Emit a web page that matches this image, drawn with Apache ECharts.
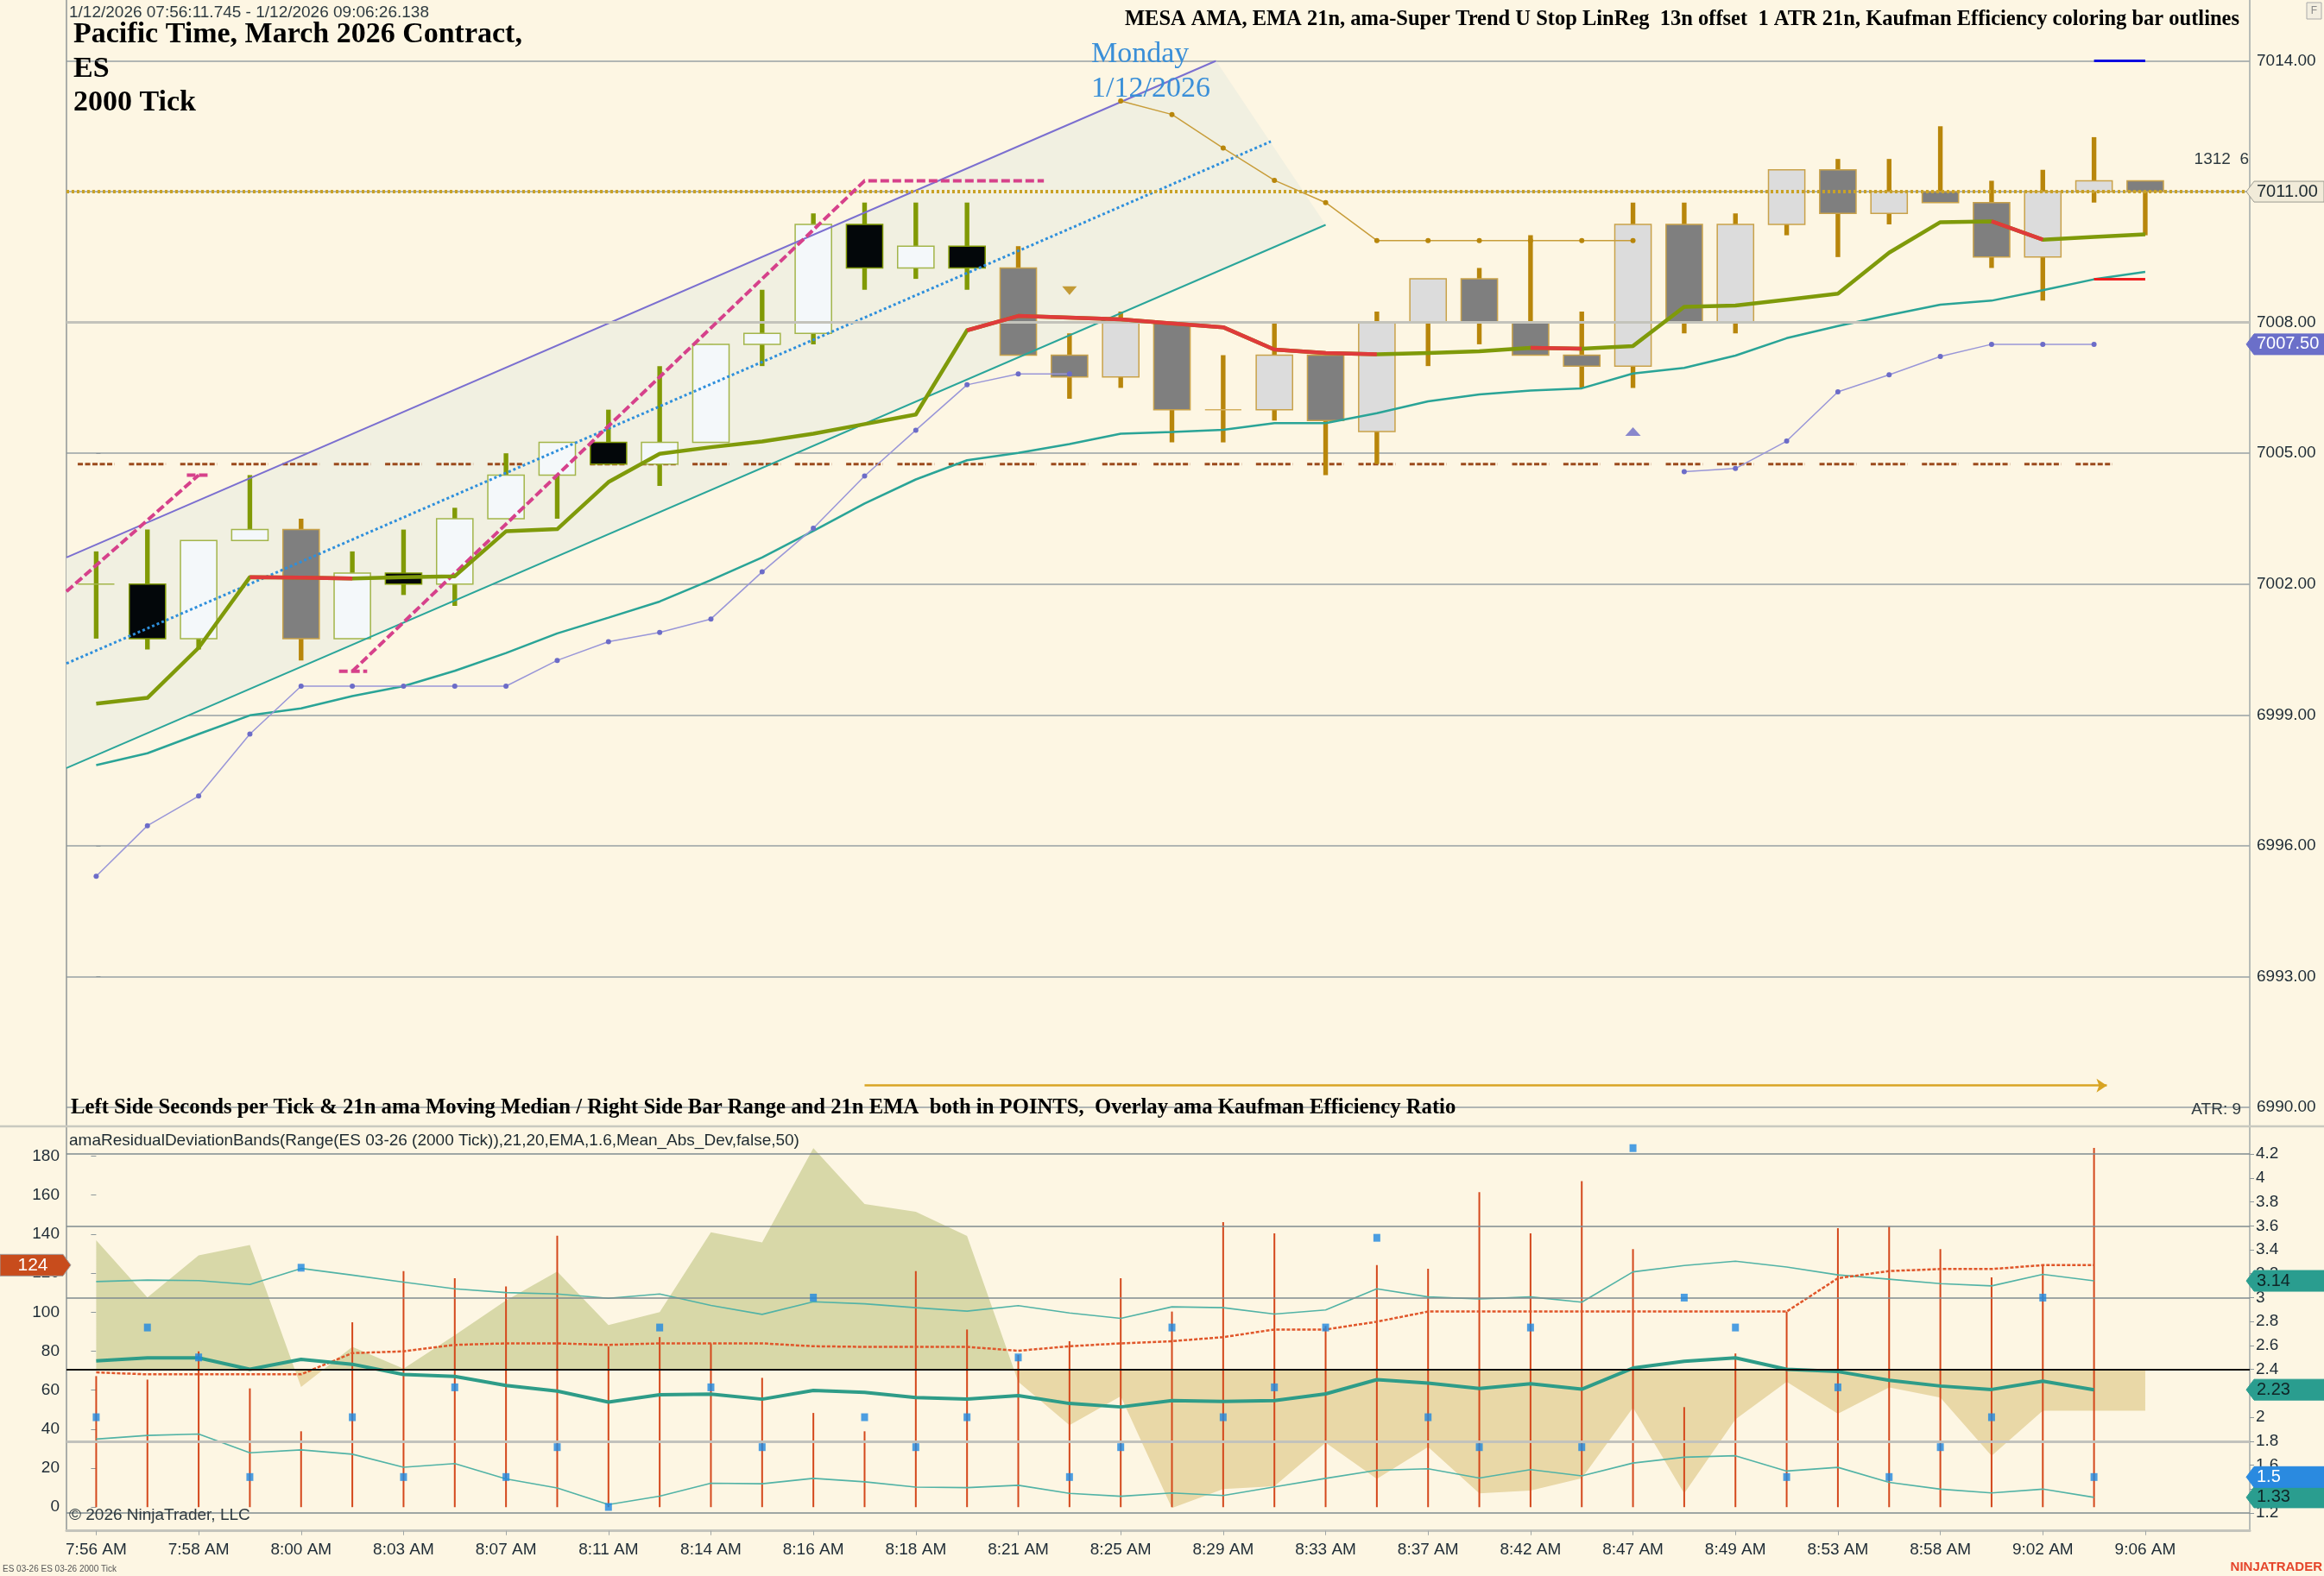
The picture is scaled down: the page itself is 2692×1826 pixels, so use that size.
<!DOCTYPE html>
<html><head><meta charset="utf-8">
<script src="https://cdn.jsdelivr.net/npm/echarts@6/dist/echarts.min.js"></script>
<style>html,body{margin:0;padding:0;background:#fdf6e3;}#c{width:2692px;height:1826px;}</style>
</head><body><div id="c"></div>
<script>
// ---------- categories / ticks ----------
const timeLabels = ['7:56 AM','7:58 AM','8:00 AM','8:03 AM','8:07 AM','8:11 AM','8:14 AM','8:16 AM','8:18 AM','8:21 AM','8:25 AM','8:29 AM','8:33 AM','8:37 AM','8:42 AM','8:47 AM','8:49 AM','8:53 AM','8:58 AM','9:02 AM','9:06 AM'];
const timeLabelBars = [0,2,4,6,8,10,12,14,16,18,20,22,24,26,28,30,32,34,36,38,40];
const leftTicks = [0,20,40,60,80,100,120,140,160,180];
const rightTicks = [1.2,1.4,1.6,1.8,2,2.2,2.4,2.6,2.8,3,3.2,3.4,3.6,3.8,4,4.2];
const rangeGridLevels = [1.2,1.8,2.4,3.0,3.6,4.2];
const priceRefLevels = [7008];

// ---------- price bars ----------
const openP  = [7002.0,7002.0,7000.75,7003.0,7003.25,7000.75,7002.25,7002.0,7003.5,7004.5,7005.25,7004.75,7005.25,7007.5,7007.75,7010.25,7009.25,7009.75,7009.25,7007.25,7006.75,7008.0,7006.0,7006.0,7007.25,7005.5,7008.0,7009.0,7008.0,7007.25,7007.0,7010.25,7008.0,7010.25,7011.5,7010.5,7011.0,7010.75,7009.5,7011.0,7011.25];
const highP  = [7002.75,7003.25,7003.0,7004.5,7003.5,7002.75,7003.25,7003.75,7005.0,7005.25,7006.0,7007.0,7007.5,7008.75,7010.5,7010.75,7010.75,7010.75,7009.75,7007.75,7008.25,7008.0,7007.25,7008.0,7007.25,7008.25,7009.0,7009.25,7010.0,7008.25,7010.75,7010.75,7010.5,7011.5,7011.75,7011.75,7012.5,7011.25,7011.5,7012.25,7011.25];
const lowP   = [7000.75,7000.5,7000.5,7003.0,7000.25,7000.75,7001.75,7001.5,7003.5,7003.5,7004.75,7004.25,7005.25,7007.0,7007.5,7008.75,7009.0,7008.75,7007.25,7006.25,7006.5,7005.25,7005.25,7005.75,7004.5,7004.75,7007.0,7007.5,7007.25,7006.5,7006.5,7007.75,7007.75,7010.0,7009.5,7010.25,7010.75,7009.25,7008.5,7010.75,7010.0];
const closeP = [7002.0,7000.75,7003.0,7003.25,7000.75,7002.25,7002.0,7003.5,7004.5,7005.25,7004.75,7005.25,7007.5,7007.75,7010.25,7009.25,7009.75,7009.25,7007.25,7006.75,7008.0,7006.0,7006.0,7007.25,7005.75,7008.0,7009.0,7008.0,7007.25,7007.0,7010.25,7008.0,7010.25,7011.5,7010.5,7011.0,7010.75,7009.5,7011.0,7011.25,7011.0];
const effHigh = [1,1,1,1,0,1,1,1,1,1,1,1,1,1,1,1,1,1,0,0,0,0,0,0,0,0,0,0,0,0,0,0,0,0,0,0,0,0,0,0,0];

// ---------- upper panel indicators ----------
const mesaAma = [6999.26,6999.39,7000.54,7002.16,7002.15,7002.13,7002.16,7002.18,7003.21,7003.26,7004.34,7004.99,7005.14,7005.27,7005.45,7005.67,7005.89,7007.82,7008.15,7008.11,7008.07,7007.98,7007.89,7007.38,7007.30,7007.27,7007.30,7007.34,7007.42,7007.40,7007.46,7008.36,7008.39,7008.52,7008.66,7009.60,7010.30,7010.32,7009.90,7009.96,7010.02];
const mesaRedRuns = [[3,5],[17,25],[28,29],[37,38]];
const ema21 = [6997.85,6998.12,6998.56,6998.99,6999.15,6999.43,6999.66,7000.01,7000.42,7000.87,7001.23,7001.60,7002.09,7002.61,7003.22,7003.85,7004.40,7004.84,7005.01,7005.21,7005.45,7005.49,7005.54,7005.69,7005.69,7005.92,7006.19,7006.35,7006.44,7006.49,7006.83,7006.96,7007.24,7007.64,7007.92,7008.17,7008.41,7008.50,7008.74,7008.99,7009.16];
const stopLower = [6995.30,6996.46,6997.14,6998.56,6999.66,6999.66,6999.66,6999.66,6999.66,7000.25,7000.68,7000.89,7001.20,7002.28,7003.28,7004.48,7005.53,7006.57,7006.82,7006.82,null,null,null,null,null,null,null,null,null,null,null,7004.58,7004.65,7005.28,7006.41,7006.80,7007.22,7007.50,7007.50,7007.50,null];
const stopUpper = [null,null,null,null,null,null,null,null,null,null,null,null,null,null,null,null,null,null,null,null,7013.08,7012.77,7012.00,7011.26,7010.75,7009.88,7009.88,7009.88,7009.88,7009.88,7009.88,null,null,null,null,null,null,null,null,null,null];
const levelDash = [7004.75,7004.75,7004.75,7004.75,7004.75,7004.75,7004.75,7004.75,7004.75,7004.75,7004.75,7004.75,7004.75,7004.75,7004.75,7004.75,7004.75,7004.75,7004.75,7004.75,7004.75,7004.75,7004.75,7004.75,7004.75,7004.75,7004.75,7004.75,7004.75,7004.75,7004.75,7004.75,7004.75,7004.75,7004.75,7004.75,7004.75,7004.75,7004.75,7004.75];
const chanUpper = [[-0.58,7002.61],[21.86,7014.0]];
const chanMid   = [[-0.58,7000.18],[22.93,7012.15]];
const chanLower = [[-0.58,6997.78],[24.0,7010.24]];
const stopLineA = [[-0.58,7001.83],[2.0,7004.5]];
const stopCapA  = [[1.77,7004.5],[2.23,7004.5]];
const stopCapB  = [[4.74,7000.0],[5.29,7000.0]];
const stopLineB = [[5.0,7000.0],[15.0,7011.25],[18.5,7011.25]];
const sellMarker = [[19,7008.73]];
const buyMarker  = [[30,7005.5]];
const targetHigh = [[39,7014.0],[40,7014.0]];
const targetLow  = [[39,7009.0],[40,7009.0]];
const arrowLine  = [[15,6990.5],[39.25,6990.5]];
const lastPrice = 7011.0;

// ---------- lower panel ----------
const timeArea = [3.479,3.001,3.353,3.440,2.253,2.588,2.406,2.685,2.976,3.218,2.770,2.879,3.547,3.462,4.250,3.783,3.717,3.516,2.297,1.933,2.176,1.241,1.399,1.423,1.787,1.484,1.751,1.363,1.387,1.489,2.079,1.363,1.982,2.297,2.030,2.249,2.164,1.678,2.054,2.054,2.054];
const secondsBars = [67.2,65.4,79.9,60.9,38.9,94.8,121.1,117.4,113.2,139.2,82.5,87.2,84.0,66.3,48.3,38.9,121.1,91.1,78.0,85.1,117.4,100.3,146.2,140.4,92.9,124.1,122.3,161.5,140.4,167.2,132.3,51.3,78.8,100.3,143.1,144.1,132.3,117.8,124.1,184.2];
const movingMedian = [69.1,68.1,68.1,68.1,68.1,79.0,79.9,83.2,84.0,84.0,83.2,84.0,84.0,84.0,82.5,82.2,82.2,82.2,80.2,82.5,84.0,85.1,87.2,91.1,91.1,95.1,100.3,100.3,100.3,100.3,100.3,100.3,100.3,100.3,117.4,121.1,122.1,122.1,124.1,124.1];
const barRange = [2.0,2.75,2.5,1.5,3.25,2.0,1.5,2.25,1.5,1.75,1.25,2.75,2.25,1.75,3.0,2.0,1.75,2.0,2.5,1.5,1.75,2.75,2.0,2.25,2.75,3.5,2.0,1.75,2.75,1.75,4.25,3.0,2.75,1.5,2.25,1.5,1.75,2.0,3.0,1.5];
const rangeEma = [2.472,2.496,2.496,2.401,2.484,2.443,2.358,2.341,2.266,2.219,2.127,2.188,2.193,2.151,2.224,2.207,2.164,2.151,2.181,2.115,2.086,2.139,2.132,2.139,2.195,2.314,2.285,2.241,2.280,2.234,2.411,2.467,2.496,2.401,2.382,2.309,2.261,2.232,2.302,2.23];
const bandUpper = [3.134,3.147,3.142,3.110,3.244,3.188,3.130,3.074,3.042,3.030,2.994,3.030,2.935,2.860,2.965,2.948,2.916,2.887,2.933,2.872,2.826,2.923,2.916,2.863,2.897,3.074,3.006,2.989,3.006,2.962,3.215,3.268,3.304,3.256,3.190,3.154,3.117,3.098,3.195,3.14];
const bandLower = [1.817,1.848,1.860,1.703,1.727,1.691,1.582,1.613,1.485,1.408,1.270,1.340,1.448,1.444,1.489,1.460,1.416,1.411,1.431,1.363,1.339,1.367,1.345,1.418,1.489,1.557,1.569,1.491,1.562,1.510,1.617,1.666,1.678,1.550,1.581,1.455,1.399,1.367,1.399,1.33];
const areaBaseline = 2.4;

// ---------- helpers ----------
const SANS = '"Liberation Sans", Arial, sans-serif';
const SERIF = '"Liberation Serif", "Times New Roman", serif';
const X_MIN = -0.58, X_MAX = 42.04;
const pairs = arr => arr.map((v, i) => [i, v]);
const inRun = i => mesaRedRuns.some(r => i >= r[0] && i <= r[1]);
const candleData = openP.map((o, i) => [i, o, highP[i], lowP[i], closeP[i], effHigh[i]]);
const axisTxt = '#1e2b35';

function renderCandle(params, api) {
  const i = api.value(0), o = api.value(1), h = api.value(2), l = api.value(3), c = api.value(4), eff = api.value(5);
  const pH = api.coord([i, h]), pL = api.coord([i, l]), pO = api.coord([i, o]), pC = api.coord([i, c]);
  const bw = api.size([1, 0])[0] * 0.71;
  const x = pH[0];
  const up = c > o, doji = c === o;
  const wick = eff ? '#819a05' : '#b8860b';
  let fill, stroke;
  if (eff) { fill = up ? '#f4f8fa' : '#03070a'; stroke = up ? '#a3b54a' : '#819a05'; }
  else { fill = up ? '#dcdcdc' : '#7f7f7f'; stroke = '#c9a24a'; }
  const children = [{
    type: 'rect', shape: { x: x - 2.7, y: pH[1], width: 5.4, height: pL[1] - pH[1] }, style: { fill: wick }
  }];
  if (doji) {
    children.push({ type: 'line', shape: { x1: x - bw / 2, y1: pO[1], x2: x + bw / 2, y2: pO[1] }, style: { stroke: eff ? '#a3b54a' : '#d4b060', lineWidth: 1.5 } });
  } else {
    const top = Math.min(pO[1], pC[1]), bot = Math.max(pO[1], pC[1]);
    children.push({ type: 'rect', shape: { x: x - bw / 2, y: top, width: bw, height: bot - top }, style: { fill: fill, stroke: stroke, lineWidth: 1.5 } });
  }
  return { type: 'group', children };
}

const series = [
  // channel fill
  { type: 'custom', xAxisIndex: 0, yAxisIndex: 0, z: 1, silent: true, data: [[0]],
    renderItem: (p, api) => ({ type: 'polygon', shape: { points: [api.coord(chanUpper[0]), api.coord(chanUpper[1]), api.coord(chanLower[1]), api.coord(chanLower[0])] }, style: { fill: '#f1f0e1' } }) },
  // level dashes
  { type: 'custom', xAxisIndex: 0, yAxisIndex: 0, z: 2, silent: true, data: pairs(levelDash),
    renderItem: (p, api) => { const i = api.value(0), v = api.value(1); const a = api.coord([i - 0.36, v]), b = api.coord([i + 0.36, v]);
      return { type: 'line', shape: { x1: a[0], y1: a[1], x2: b[0], y2: b[1] }, style: { stroke: '#9b4a1c', lineWidth: 3, lineDash: [6, 2.5] } }; } },
  // candles
  { type: 'custom', xAxisIndex: 0, yAxisIndex: 0, z: 3, silent: true, data: candleData, renderItem: renderCandle },
  // channel lines
  { type: 'line', xAxisIndex: 0, yAxisIndex: 0, z: 4, data: chanUpper, showSymbol: false, silent: true, lineStyle: { color: '#7b6fd0', width: 2 } },
  { type: 'line', xAxisIndex: 0, yAxisIndex: 0, z: 4, data: chanMid, showSymbol: false, silent: true, lineStyle: { color: '#2e8fdc', width: 3, type: [3, 3] } },
  { type: 'line', xAxisIndex: 0, yAxisIndex: 0, z: 4, data: chanLower, showSymbol: false, silent: true, lineStyle: { color: '#2aa59a', width: 2 } },
  // EMA 21 (+ last price dotted line and reference level)
  { type: 'line', xAxisIndex: 0, yAxisIndex: 0, z: 4, data: pairs(ema21), showSymbol: false, silent: true, lineStyle: { color: '#2aa497', width: 2.5 },
    markLine: { silent: true, symbol: 'none', label: { show: false },
      data: [{ yAxis: lastPrice, lineStyle: { color: '#c9a227', width: 4, type: [3, 3] } }]
        .concat(priceRefLevels.map(v => ({ yAxis: v, lineStyle: { color: '#c3c3bb', width: 3, type: 'solid' } }))) } },
  // lower stop with dots
  { type: 'line', xAxisIndex: 0, yAxisIndex: 0, z: 4, data: pairs(stopLower), connectNulls: false, showSymbol: true, symbol: 'circle', symbolSize: 6, silent: true,
    itemStyle: { color: '#6c6cc8' }, lineStyle: { color: '#9996d8', width: 1.5 } },
  // upper stop with dots
  { type: 'line', xAxisIndex: 0, yAxisIndex: 0, z: 4, data: pairs(stopUpper), connectNulls: false, showSymbol: true, symbol: 'circle', symbolSize: 6, silent: true,
    itemStyle: { color: '#b8860b' }, lineStyle: { color: '#c89d3a', width: 1.5 } },
  // magenta stop lines
  { type: 'lines', coordinateSystem: 'cartesian2d', xAxisIndex: 0, yAxisIndex: 0, polyline: true, z: 5, silent: true,
    lineStyle: { color: '#d6418b', width: 4, type: [10, 4], opacity: 1 },
    data: [{ coords: stopLineA }, { coords: stopCapA }, { coords: stopCapB }, { coords: stopLineB }] },
  // MESA AMA
  { type: 'line', xAxisIndex: 0, yAxisIndex: 0, z: 6, data: pairs(mesaAma), showSymbol: false, silent: true, lineStyle: { color: '#7f9a0a', width: 4.5, join: 'round' } },
  { type: 'line', xAxisIndex: 0, yAxisIndex: 0, z: 6, data: mesaAma.map((v, i) => [i, inRun(i) ? v : null]), connectNulls: false, showSymbol: false, silent: true, lineStyle: { color: '#df3b3b', width: 4.5 } },
  // markers
  { type: 'scatter', xAxisIndex: 0, yAxisIndex: 0, z: 7, data: sellMarker, symbol: 'triangle', symbolRotate: 180, symbolSize: [17, 10], itemStyle: { color: '#b8860b' }, silent: true },
  { type: 'scatter', xAxisIndex: 0, yAxisIndex: 0, z: 7, data: buyMarker, symbol: 'triangle', symbolSize: [18, 10], itemStyle: { color: '#6c6cc6' }, silent: true },
  // target short lines
  { type: 'lines', coordinateSystem: 'cartesian2d', xAxisIndex: 0, yAxisIndex: 0, z: 7, silent: true, symbol: 'none',
    lineStyle: { width: 3, opacity: 1 },
    data: [{ coords: targetHigh, lineStyle: { color: '#0a0ae0', width: 3, opacity: 1 } }, { coords: targetLow, lineStyle: { color: '#f01c1c', width: 3, opacity: 1 } }] },
  // arrow
  { type: 'lines', coordinateSystem: 'cartesian2d', xAxisIndex: 0, yAxisIndex: 0, z: 7, silent: true, symbol: ['none', 'arrow'], symbolSize: 12,
    lineStyle: { color: '#d8a423', width: 2.5, opacity: 1 }, data: [{ coords: arrowLine }] },

  // ---------- lower panel ----------
  { type: 'line', xAxisIndex: 1, yAxisIndex: 2, z: 1, data: pairs(timeArea), showSymbol: false, silent: true,
    lineStyle: { width: 0, opacity: 0 }, areaStyle: { origin: areaBaseline, opacity: 1 } },
  { type: 'line', xAxisIndex: 1, yAxisIndex: 2, z: 2, data: [[0, null]], silent: true, showSymbol: false,
    markLine: { silent: true, symbol: 'none', label: { show: false },
      data: rangeGridLevels.map(v => ({ yAxis: v, lineStyle: v === 2.4 ? { color: '#111111', width: 2, type: 'solid' } : (v === 1.8 ? { color: '#c2c2bc', width: 3, type: 'solid' } : { color: '#7f8b8f', width: 1.5, type: 'solid' }) })) } },
  { type: 'custom', xAxisIndex: 1, yAxisIndex: 1, z: 3, silent: true, data: pairs(secondsBars),
    renderItem: (p, api) => { const i = api.value(0), v = api.value(1); const a = api.coord([i, 0]), b = api.coord([i, v]);
      return { type: 'rect', shape: { x: a[0] - 1, y: b[1], width: 2, height: a[1] - b[1] }, style: { fill: '#d4481c' } }; } },
  { type: 'line', xAxisIndex: 1, yAxisIndex: 2, z: 4, data: pairs(bandUpper), showSymbol: false, silent: true, lineStyle: { color: '#52b3a6', width: 1.6 } },
  { type: 'line', xAxisIndex: 1, yAxisIndex: 2, z: 4, data: pairs(bandLower), showSymbol: false, silent: true, lineStyle: { color: '#52b3a6', width: 1.6 } },
  { type: 'line', xAxisIndex: 1, yAxisIndex: 1, z: 4, data: pairs(movingMedian), showSymbol: false, silent: true, lineStyle: { color: '#e0562a', width: 2.5, type: [4, 2] } },
  { type: 'line', xAxisIndex: 1, yAxisIndex: 2, z: 4, data: pairs(rangeEma), showSymbol: false, silent: true, lineStyle: { color: '#2e9c88', width: 4 } },
  { type: 'scatter', xAxisIndex: 1, yAxisIndex: 2, z: 5, data: pairs(barRange), symbol: 'rect', symbolSize: [8, 9], itemStyle: { color: '#1f88e0' }, silent: true }
];
const areaSeriesIndex = 16;

const chart = echarts.init(document.getElementById('c'), null, { renderer: 'canvas' });

const option = {
  backgroundColor: '#fdf6e3',
  animation: false,
  grid: [
    { left: 77, right: 86, top: 70.5, height: 1212.5 },
    { left: 77, right: 86, top: 1305, height: 468.7 }
  ],
  xAxis: [
    { type: 'value', gridIndex: 0, min: X_MIN, max: X_MAX, show: false },
    { type: 'value', gridIndex: 1, min: X_MIN, max: X_MAX,
      axisLine: { show: true, onZero: false, lineStyle: { color: '#c4c4bc', width: 3 } },
      axisTick: { show: true, customValues: timeLabelBars, length: 5, lineStyle: { color: '#a0a6a6' } },
      axisLabel: { customValues: timeLabelBars, formatter: v => timeLabels[Math.round(v / 2)] || '', fontSize: 19, fontFamily: SANS, color: axisTxt, margin: 13 },
      splitLine: { show: false } }
  ],
  yAxis: [
    { type: 'value', gridIndex: 0, position: 'right', min: 6990, max: 7014, interval: 3,
      axisLine: { show: false }, axisTick: { show: true, length: 5, lineStyle: { color: '#8d979a' } },
      axisLabel: { formatter: v => v.toFixed(2), fontSize: 19, fontFamily: SANS, color: axisTxt, margin: 8 },
      splitLine: { show: true, lineStyle: { color: '#97a1a4', width: 1.5 } } },
    { type: 'value', gridIndex: 1, position: 'left', min: -12.17, max: 195.3,
      axisLine: { show: false },
      axisTick: { show: true, customValues: leftTicks, length: 6, lineStyle: { color: '#8d979a' } },
      axisLabel: { customValues: leftTicks, fontSize: 19, fontFamily: SANS, color: axisTxt, margin: 8 },
      splitLine: { show: false } },
    { type: 'value', gridIndex: 1, position: 'right', min: 1.05, max: 4.432,
      axisLine: { show: false },
      axisTick: { show: true, customValues: rightTicks, length: 5, lineStyle: { color: '#8d979a' } },
      axisLabel: { customValues: rightTicks, formatter: v => String(parseFloat(v.toFixed(2))), fontSize: 19, fontFamily: SANS, color: axisTxt, margin: 7 },
      splitLine: { show: false } }
  ],
  visualMap: [{
    type: 'piecewise', show: false, seriesIndex: areaSeriesIndex, dimension: 1,
    pieces: [{ gte: areaBaseline, lte: 100, color: '#d8d8a8' }, { gte: -100, lt: areaBaseline, color: '#e9d8a7' }]
  }],
  series: series
};
chart.setOption(option);

// ---------- texts, frame and value tags ----------
function tagLeftPointing(y, text, fill, txtColor, stroke) {
  const x0 = 2602, x1 = 2692, h = 24;
  return [
    { type: 'polygon', z: 100, shape: { points: [[x0, y], [x0 + 9, y - h / 2], [x1, y - h / 2], [x1, y + h / 2], [x0 + 9, y + h / 2]] }, style: { fill: fill, stroke: stroke || fill, lineWidth: 1 } },
    { type: 'text', z: 101, x: x0 + 12, y: y, style: { text: text, font: '20px ' + SANS, fill: txtColor, verticalAlign: 'middle', align: 'left' } }
  ];
}
const fmt2 = v => String(parseFloat(v.toFixed(2)));
const yP = v => chart.convertToPixel({ yAxisIndex: 0 }, v);
const yL = v => chart.convertToPixel({ yAxisIndex: 1 }, v);
const yR = v => chart.convertToPixel({ yAxisIndex: 2 }, v);
const lastStop = stopLower.filter(v => v !== null).slice(-1)[0];
const lastMedian = movingMedian[movingMedian.length - 1];
const yMed = yL(lastMedian);

const graphics = [
  { type: 'line', z: 0, shape: { x1: 77, y1: 0, x2: 77, y2: 1774 }, style: { stroke: '#8f9696', lineWidth: 1.5 } },
  { type: 'line', z: 0, shape: { x1: 2606, y1: 0, x2: 2606, y2: 1774 }, style: { stroke: '#a0a8a8', lineWidth: 1.5 } },
  { type: 'line', z: 0, shape: { x1: 0, y1: 1305, x2: 2692, y2: 1305 }, style: { stroke: '#c9c9c0', lineWidth: 2.5 } },
  { type: 'text', x: 80, y: 15, style: { text: '1/12/2026 07:56:11.745 - 1/12/2026 09:06:26.138', font: '19px ' + SANS, fill: '#2e3a40', verticalAlign: 'middle' } },
  { type: 'text', x: 85, y: 40, style: { text: 'Pacific Time, March 2026 Contract,', font: 'bold 34px ' + SERIF, fill: '#000', verticalAlign: 'middle' } },
  { type: 'text', x: 85, y: 80, style: { text: 'ES', font: 'bold 34px ' + SERIF, fill: '#000', verticalAlign: 'middle' } },
  { type: 'text', x: 85, y: 119, style: { text: '2000 Tick', font: 'bold 34px ' + SERIF, fill: '#000', verticalAlign: 'middle' } },
  { type: 'text', x: 2594, y: 23, style: { text: 'MESA AMA, EMA 21n, ama-Super Trend U Stop LinReg  13n offset  1 ATR 21n, Kaufman Efficiency coloring bar outlines', font: 'bold 24.5px ' + SERIF, fill: '#000', verticalAlign: 'middle', align: 'right' } },
  { type: 'text', x: 1264, y: 63, z: 50, style: { text: 'Monday', font: '34px ' + SERIF, fill: '#3a8fd8', verticalAlign: 'middle' } },
  { type: 'text', x: 1264, y: 103, z: 50, style: { text: '1/12/2026', font: '34px ' + SERIF, fill: '#3a8fd8', verticalAlign: 'middle' } },
  { type: 'text', x: 2605, y: 185, style: { text: '1312  6', font: '19px ' + SANS, fill: '#2e3a40', verticalAlign: 'middle', align: 'right' } },
  { type: 'text', x: 82, y: 1284, style: { text: 'Left Side Seconds per Tick & 21n ama Moving Median / Right Side Bar Range and 21n EMA  both in POINTS,  Overlay ama Kaufman Efficiency Ratio', font: 'bold 24.7px ' + SERIF, fill: '#000', verticalAlign: 'middle' } },
  { type: 'text', x: 2596, y: 1286, style: { text: 'ATR: 9', font: '19px ' + SANS, fill: '#2e3a40', verticalAlign: 'middle', align: 'right' } },
  { type: 'text', x: 80, y: 1322, z: 50, style: { text: 'amaResidualDeviationBands(Range(ES 03-26 (2000 Tick)),21,20,EMA,1.6,Mean_Abs_Dev,false,50)', font: '19px ' + SANS, fill: '#1e2a30', verticalAlign: 'middle' } },
  { type: 'text', x: 80, y: 1756, z: 50, style: { text: '\u00a9 2026 NinjaTrader, LLC', font: '19px ' + SANS, fill: '#2e3a40', verticalAlign: 'middle' } },
  { type: 'text', x: 3, y: 1818, style: { text: 'ES 03-26 ES 03-26 2000 Tick', font: '10px ' + SANS, fill: '#555', verticalAlign: 'middle' } },
  { type: 'text', x: 2690, y: 1816, style: { text: 'NINJATRADER', font: 'bold 15px ' + SANS, fill: '#e5452b', verticalAlign: 'middle', align: 'right' } },
  { type: 'rect', shape: { x: 2672, y: 3, width: 17, height: 19 }, style: { fill: '#f3eee0', stroke: '#aaaaaa', lineWidth: 1 } },
  { type: 'text', x: 2680.5, y: 12.5, style: { text: 'F', font: '12px ' + SANS, fill: '#888', verticalAlign: 'middle', align: 'center' } }
]
.concat(tagLeftPointing(yP(lastPrice), lastPrice.toFixed(2), '#f1ebd9', '#1e2a30', '#9c9c92'))
.concat(tagLeftPointing(yP(lastStop), lastStop.toFixed(2), '#6b6fc9', '#ffffff'))
.concat(tagLeftPointing(yR(bandUpper[bandUpper.length - 1]), fmt2(bandUpper[bandUpper.length - 1]), '#2a9d8f', '#0f2526'))
.concat(tagLeftPointing(yR(rangeEma[rangeEma.length - 1]), fmt2(rangeEma[rangeEma.length - 1]), '#2a9d8f', '#0f2526'))
.concat(tagLeftPointing(yR(bandLower[bandLower.length - 1]), fmt2(bandLower[bandLower.length - 1]), '#2a9d8f', '#0f2526'))
.concat(tagLeftPointing(yR(barRange[barRange.length - 1]), fmt2(barRange[barRange.length - 1]), '#2a8ae0', '#ffffff'))
.concat([
  { type: 'polygon', z: 100, shape: { points: [[0, yMed - 12.5], [73, yMed - 12.5], [82, yMed], [73, yMed + 12.5], [0, yMed + 12.5]] }, style: { fill: '#c84c1c', stroke: '#a0a0a0', lineWidth: 1 } },
  { type: 'text', z: 101, x: 38, y: yMed, style: { text: String(Math.round(lastMedian)), font: '21px ' + SANS, fill: '#ffffff', verticalAlign: 'middle', align: 'center' } }
]);
chart.setOption({ graphic: { elements: graphics } });
</script>
</body></html>
